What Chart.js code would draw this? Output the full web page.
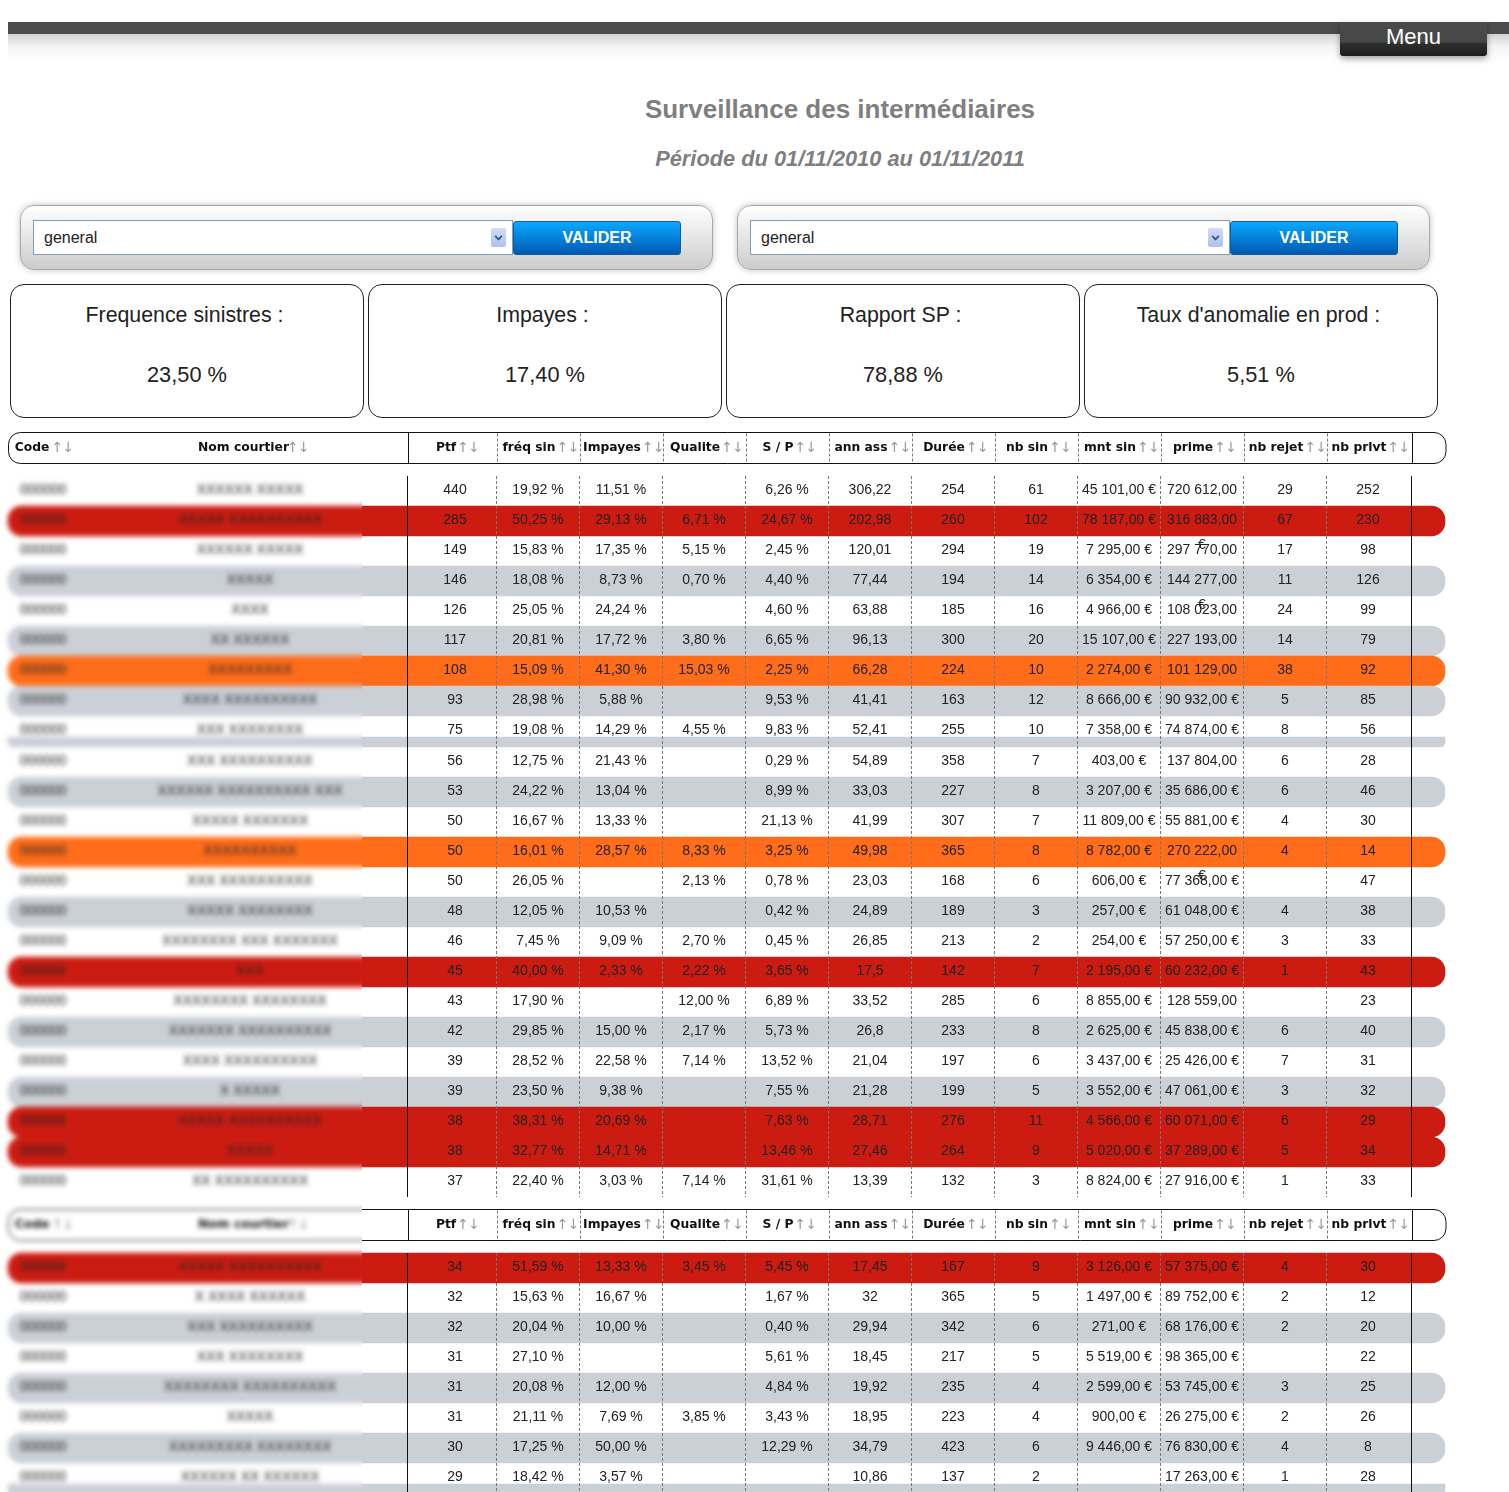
<!DOCTYPE html>
<html lang="fr">
<head>
<meta charset="utf-8">
<title>Surveillance des intermédiaires</title>
<script src="https://cdn.jsdelivr.net/npm/chart.js@4/dist/chart.umd.min.js"></script>
<style>
html, body { margin: 0; padding: 0; background: #fff; }
body { position: relative; width: 1509px; height: 1492px; overflow: hidden; font-family: "Liberation Sans", Arial, sans-serif; }
.abs { position: absolute; box-sizing: border-box; }
#topbar { left: 8px; top: 22px; width: 1501px; height: 12px; background: #4c4c4c; }
#topshadow { left: 8px; top: 34px; width: 1501px; height: 28px; background: linear-gradient(#d2d2d2, #f4f4f4 45%, #fff); }
#menu { left: 1340px; top: 22px; width: 147px; height: 34px; border-radius: 0 0 3px 3px; color: #fff; font-size: 22px; text-align: center; line-height: 30px;
  background: linear-gradient(#4a4a4a 0, #474747 58%, #2e2e2e 64%, #1e1e1e 100%); box-shadow: 0 3px 6px rgba(0,0,0,.35); }
#title { left: 340px; top: 94px; width: 1000px; text-align: center; font-size: 26px; font-weight: bold; color: #7f7f7f; line-height: 30px; }
#periode { left: 340px; top: 146px; width: 1000px; text-align: center; font-size: 21.8px; font-weight: bold; font-style: italic; color: #7f7f7f; line-height: 26px; }
.panel { top: 205px; width: 693px; height: 65px; border-radius: 14px; border: 1px solid #a9a9a9; background: linear-gradient(#fff, #ccc); box-shadow: 0 0 6px rgba(0,0,0,.25); }
.select { top: 220px; width: 480px; height: 35px; border: 1px solid #7f9db9; background: #fff; font-size: 16px; color: #222; line-height: 33px; padding-left: 10px; }
.select i { position: absolute; right: 6px; top: 7px; width: 15px; height: 19px; background: linear-gradient(#cfdcf8, #aec2ee); border-radius: 2px; }
.select i::after { content: ""; position: absolute; left: 4px; top: 5px; width: 5px; height: 5px; border-right: 2px solid #39507f; border-bottom: 2px solid #39507f; transform: rotate(45deg) scale(.8); }
.btn { top: 221px; width: 168px; height: 34px; border-radius: 3px; border: 1px solid #0a5ea8; background: linear-gradient(#0aa9ff, #0059b3); color: #fff; font-size: 16px; font-weight: bold; text-align: center; line-height: 31px; }
.kpi { top: 284px; width: 354px; height: 134px; border: 1px solid #222; border-radius: 14px; text-align: center; color: #222; }
.kpi div { position: absolute; left: 0; right: 0; line-height: 26px; }
.kpi .l { top: 17px; left: -5px; font-size: 21.33px; } .kpi .v { top: 77px; font-size: 21.8px; }
#chartWrap { left: 0; top: 420px; width: 1509px; height: 1072px; }
canvas { display: block; }
</style>
</head>
<body>
<div class="abs" id="topshadow"></div>
<div class="abs" id="topbar"></div>
<div class="abs" id="menu">Menu</div>
<div class="abs" id="title">Surveillance des intermédiaires</div>
<div class="abs" id="periode">Période du 01/11/2010 au 01/11/2011</div>

<div class="abs panel" style="left:20px"></div>
<div class="abs select" style="left:33px">general<i></i></div>
<div class="abs btn" style="left:513px">VALIDER</div>
<div class="abs panel" style="left:737px"></div>
<div class="abs select" style="left:750px">general<i></i></div>
<div class="abs btn" style="left:1230px">VALIDER</div>

<div class="abs kpi" style="left:10px"><div class="l">Frequence sinistres :</div><div class="v">23,50 %</div></div>
<div class="abs kpi" style="left:368px"><div class="l">Impayes :</div><div class="v">17,40 %</div></div>
<div class="abs kpi" style="left:726px"><div class="l">Rapport SP :</div><div class="v">78,88 %</div></div>
<div class="abs kpi" style="left:1084px"><div class="l">Taux d'anomalie en prod :</div><div class="v">5,51 %</div></div>

<div class="abs" id="chartWrap"><canvas id="table-chart" width="1509" height="1072"></canvas></div>

<script>
// the code and name columns are blurred in the source, so these only stand in for them
const codes = ['000000','000000','000000','000000','000000','000000','000000','000000','000000','000000','000000','000000','000000','000000','000000','000000','000000','000000','000000','000000','000000','000000','000000','000000','000000','000000','000000','000000','000000','000000','000000','000000'];
const noms = ['XXXXXX XXXXX','XXXXX XXXXXXXXXX','XXXXXX XXXXX','XXXXX','XXXX','XX XXXXXX','XXXXXXXXX','XXXX XXXXXXXXXX','XXX XXXXXXXX','XXX XXXXXXXXXX','XXXXXX XXXXXXXXXX XXX','XXXXX XXXXXXX','XXXXXXXXXX','XXX XXXXXXXXXX','XXXXX XXXXXXXX','XXXXXXXX XXX XXXXXXX','XXX','XXXXXXXX XXXXXXXX','XXXXXXX XXXXXXXXXX','XXXX XXXXXXXXXX','X XXXXX','XXXXX XXXXXXXXXX','XXXXX','XX XXXXXXXXXX','XXXXX XXXXXXXXXX','X XXXX XXXXXX','XXX XXXXXXXXXX','XXX XXXXXXXX','XXXXXXXX XXXXXXXXXX','XXXXX','XXXXXXXXX XXXXXXXX','XXXXXX XX XXXXXX'];

const ptf = [440,285,149,146,126,117,108,93,75,56,53,50,50,50,48,46,45,43,42,39,39,38,38,37,34,32,32,31,31,31,30,29];
const freqSin = [19.92,50.25,15.83,18.08,25.05,20.81,15.09,28.98,19.08,12.75,24.22,16.67,16.01,26.05,12.05,7.45,40.00,17.90,29.85,28.52,23.50,38.31,32.77,22.40,51.59,15.63,20.04,27.10,20.08,21.11,17.25,18.42];
const impayes = [11.51,29.13,17.35,8.73,24.24,17.72,41.30,5.88,14.29,21.43,13.04,13.33,28.57,null,10.53,9.09,2.33,null,15.00,22.58,9.38,20.69,14.71,3.03,13.33,16.67,10.00,null,12.00,7.69,50.00,3.57];
const qualite = [null,6.71,5.15,0.70,null,3.80,15.03,null,4.55,null,null,null,8.33,2.13,null,2.70,2.22,12.00,2.17,7.14,null,null,null,7.14,3.45,null,null,null,null,3.85,null,null];
const sp = [6.26,24.67,2.45,4.40,4.60,6.65,2.25,9.53,9.83,0.29,8.99,21.13,3.25,0.78,0.42,0.45,3.65,6.89,5.73,13.52,7.55,7.63,13.46,31.61,5.45,1.67,0.40,5.61,4.84,3.43,12.29,null];
const annAss = [306.22,202.98,120.01,77.44,63.88,96.13,66.28,41.41,52.41,54.89,33.03,41.99,49.98,23.03,24.89,26.85,17.5,33.52,26.8,21.04,21.28,28.71,27.46,13.39,17.45,32,29.94,18.45,19.92,18.95,34.79,10.86];
const duree = [254,260,294,194,185,300,224,163,255,358,227,307,365,168,189,213,142,285,233,197,199,276,264,132,167,365,342,217,235,223,423,137];
const nbSin = [61,102,19,14,16,20,10,12,10,7,8,7,8,6,3,2,7,6,8,6,5,11,9,3,9,5,6,5,4,4,6,2];
const mntSin = [45101,78187,7295,6354,4966,15107,2274,8666,7358,403,3207,11809,8782,606,257,254,2195,8855,2625,3437,3552,4566,5020,8824,3126,1497,271,5519,2599,900,9446,null];
const prime = [720612,316883,297770,144277,108023,227193,101129,90932,74874,137804,35686,55881,270222,77368,61048,57250,60232,128559,45838,25426,47061,60071,37289,27916,57375,89752,68176,98365,53745,26275,76830,17263];
const nbRejet = [29,67,17,11,24,14,38,5,8,6,6,4,4,null,4,3,1,null,6,7,3,6,5,1,4,2,2,null,3,2,4,1];
const nbPrlvt = [252,230,98,126,99,79,92,85,56,28,46,30,14,47,38,33,43,23,40,31,32,29,34,33,30,12,20,22,25,26,8,28];
const statut = ['n','a','n','p','n','p','v','p','n','n','p','n','v','n','p','n','a','n','p','n','p','a','a','n','a','n','p','n','p','n','p','n'];
const enTetes = ['Ptf','fréq sin','Impayes','Qualite','S / P','ann ass','Durée','nb sin','mnt sin','prime','nb rejet','nb prlvt'];

const COLORS = { a: '#cc1c12', v: '#ff6d1a', p: '#cbcfd6' };
const ROW_H = 30;
const COL_W = 83;
const COL0_CENTER = 455;
const TEXT_COLOR = '#222';
const BODY_FONT = '14px "Liberation Sans"';
const HEAD_FONT = 'bold 12.3px "DejaVu Sans"';

// row tops jump where the page breaks the table
function rowTop(i) {
    if (i < 9) return 476 + i * ROW_H;
    if (i < 24) return 747 + (i - 9) * ROW_H;
    return 1253 + (i - 24) * ROW_H;
}

const comma = v => String(v).replace('.', ',');
const pct = v => v.toFixed(2).replace('.', ',') + ' %';
const euro = v => String(v).replace(/\B(?=(\d{3})+$)/g, ' ') + ',00 €';
const columns = [
    [ptf, String], [freqSin, pct], [impayes, pct], [qualite, pct], [sp, pct], [annAss, comma],
    [duree, String], [nbSin, String], [mntSin, euro], [prime, euro], [nbRejet, String], [nbPrlvt, String]
];

function drawHeader(ctx, xs, ys, top, bottom) {
    const t = ys.getPixelForValue(top), b = ys.getPixelForValue(bottom), mid = (t + b) / 2 - 0.5;
    ctx.strokeStyle = '#111';
    ctx.lineWidth = 1;
    ctx.setLineDash([]);
    ctx.beginPath();
    ctx.roundRect(xs.getPixelForValue(8.5), t, xs.getPixelForValue(1446) - xs.getPixelForValue(8.5), b - t, 12);
    ctx.moveTo(xs.getPixelForValue(408.5), t);
    ctx.lineTo(xs.getPixelForValue(408.5), b);
    ctx.moveTo(xs.getPixelForValue(1412.5), t);
    ctx.lineTo(xs.getPixelForValue(1412.5), b);
    ctx.stroke();
    ctx.strokeStyle = '#777';
    ctx.setLineDash([3, 2]);
    ctx.beginPath();
    for (let i = 1; i < 12; i++) {
        const x = xs.getPixelForValue(414.5 + i * COL_W);
        ctx.moveTo(x, t + 1);
        ctx.lineTo(x, b);
    }
    ctx.stroke();
    ctx.setLineDash([]);

    const label = (text, cx, gap) => {
        ctx.font = HEAD_FONT;
        ctx.textAlign = 'left';
        const w = ctx.measureText(text).width;
        const total = w + gap + 19;
        const x0 = xs.getPixelForValue(cx) - total / 2;
        ctx.fillStyle = '#111';
        ctx.fillText(text, x0, mid);
        ctx.font = '14px "DejaVu Sans"';
        ctx.fillStyle = '#999';
        ctx.textAlign = 'center';
        ctx.fillText('↑', x0 + w + gap + 4, mid + 1);
        ctx.fillText('↓', x0 + w + gap + 15, mid + 1);
    };
    label('Code', 43.5, 4);
    label('Nom courtier', 253, 0);
    enTetes.forEach((text, i) => label(text, COL0_CENTER + 2 + i * COL_W, 3));
}

const tablePlugin = {
    id: 'tablePlugin',
    beforeDraw(chart) {
        const { ctx, width, height } = chart;
        ctx.save();
        ctx.fillStyle = '#fff';
        ctx.fillRect(0, 0, width, height);
        ctx.restore();
    },
    afterDatasetsDraw(chart) {
        const { ctx } = chart;
        const xs = chart.scales.x, ys = chart.scales.y;
        ctx.save();
        ctx.textBaseline = 'middle';

        // body rules
        [[476, 1197], [1253, 1492]].forEach(([from, to]) => {
            const a = ys.getPixelForValue(from), b = ys.getPixelForValue(to);
            ctx.strokeStyle = '#111';
            ctx.lineWidth = 1;
            ctx.setLineDash([]);
            ctx.beginPath();
            [407.5, 1411.5].forEach(v => {
                ctx.moveTo(xs.getPixelForValue(v), a);
                ctx.lineTo(xs.getPixelForValue(v), b);
            });
            ctx.stroke();
            ctx.strokeStyle = '#777';
            ctx.setLineDash([3, 2]);
            ctx.beginPath();
            for (let i = 1; i < 12; i++) {
                const x = xs.getPixelForValue(413.5 + i * COL_W);
                ctx.moveTo(x, a);
                ctx.lineTo(x, b);
            }
            ctx.stroke();
        });
        ctx.setLineDash([]);

        // cells
        ctx.font = BODY_FONT;
        ctx.fillStyle = TEXT_COLOR;
        ctx.textAlign = 'center';
        ptf.forEach((_, r) => {
            const y = ys.getPixelForValue(rowTop(r) + 14.5);
            ctx.fillText(codes[r], xs.getPixelForValue(43), y);
            ctx.fillText(noms[r], xs.getPixelForValue(250), y);
            columns.forEach(([values, format], c) => {
                if (values[r] === null) return;
                const cx = xs.getPixelForValue(COL0_CENTER + c * COL_W);
                const text = format(values[r]);
                if (ctx.measureText(text).width > COL_W - 5) {
                    // too wide: the euro sign drops on the next line, hidden when the next row is painted
                    ctx.fillText(text.slice(0, -2), cx, y);
                    if (statut[r + 1] === 'n') ctx.fillText('€', cx, y + 25);
                } else {
                    ctx.fillText(text, cx, y);
                }
            });
        });

        drawHeader(ctx, xs, ys, 432.5, 463.5);
        drawHeader(ctx, xs, ys, 1209.5, 1240.5);
        ctx.restore();
    },
    afterDraw(chart) {
        // blur the code and name columns, as in the source
        const { ctx, canvas } = chart;
        const xs = chart.scales.x, ys = chart.scales.y;
        const left = xs.getPixelForValue(0), right = xs.getPixelForValue(362);
        const top = ys.getPixelForValue(470), bottom = ys.getPixelForValue(1492);
        ctx.save();
        ctx.beginPath();
        ctx.rect(left, top, right - left, bottom - top);
        ctx.clip();
        ctx.filter = 'blur(2.6px)';
        ctx.drawImage(canvas, 0, 0);
        ctx.restore();
    }
};

const painted = ptf.map((_, r) => r).filter(r => statut[r] !== 'n');

new Chart(document.getElementById('table-chart'), {
    type: 'bar',
    data: {
        datasets: [
            {
                label: 'rows',
                data: painted.map(r => ({ x: [8, 1445], y: rowTop(r) + ROW_H / 2 })),
                backgroundColor: painted.map(r => COLORS[statut[r]]),
                barThickness: ROW_H,
                borderSkipped: false,
                borderRadius: 14,
                grouped: false,
                order: 1
            },
            {
                // slivers of the rows lost at the page breaks
                label: 'slivers',
                data: [{ x: [8, 1445], y: 742 }, { x: [8, 1445], y: 1489 }],
                backgroundColor: COLORS.p,
                barThickness: 10,
                borderSkipped: false,
                borderRadius: { topLeft: 0, topRight: 0, bottomLeft: 9, bottomRight: 9 },
                grouped: false,
                order: 2
            }
        ]
    },
    options: {
        indexAxis: 'y',
        responsive: false,
        animation: false,
        devicePixelRatio: 1,
        layout: { padding: 0 },
        scales: {
            x: { type: 'linear', display: false, min: 0, max: 1509, offset: false },
            y: { type: 'linear', display: false, min: 420, max: 1492, reverse: true, offset: false }
        },
        plugins: { legend: { display: false }, tooltip: { enabled: false } }
    },
    plugins: [tablePlugin]
});
</script>
</body>
</html>
